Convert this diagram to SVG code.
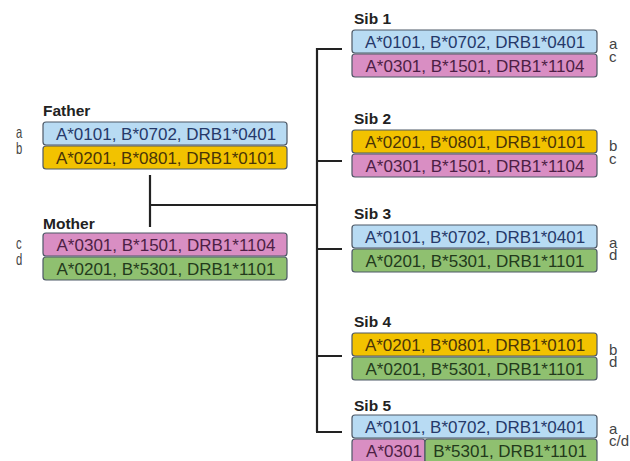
<svg xmlns="http://www.w3.org/2000/svg" width="630" height="461" viewBox="0 0 630 461">
<defs>
<style>
.bg{fill:#ffffff}
.box{stroke:#4d5866;stroke-width:1.2}
.blue{fill:#b8dbf3}
.yel{fill:#f2c200}
.pink{fill:#d98ec3}
.green{fill:#8fc070}
.t{font-family:"Liberation Sans",Arial,sans-serif;font-size:17px;text-anchor:middle}
.tb{fill:#26396a}
.ty{fill:#4a3508}
.tp{fill:#4d1f45}
.tg{fill:#233a1c}
.lbl{font-family:"Liberation Sans",Arial,sans-serif;font-size:15.5px;font-weight:bold;fill:#222}
.hap{font-family:"Liberation Sans",Arial,sans-serif;font-size:15px;fill:#444}
.ln{stroke:#222;stroke-width:2.2;fill:none}
</style>
</defs>
<rect class="bg" x="0" y="0" width="630" height="461"/>
<g id="connectors">
<path class="ln" d="M150,175 V227 M150,205 H317 M317,48 V432 M316,49 H342 M316,161 H342 M316,249 H342 M316,356 H342 M316,432 H342"/>
</g>
<g id="father">
<text class="lbl" x="43" y="116">Father</text>
<rect class="box blue" x="43" y="122" width="244" height="23" rx="3"/>
<text class="t tb" x="166" y="140">A*0101, B*0702, DRB1*0401</text>
<rect class="box yel" x="43" y="146" width="244" height="23" rx="3"/>
<text class="t ty" x="166" y="164">A*0201, B*0801, DRB1*0101</text>
<text class="hap" transform="translate(16,138) scale(0.75,1.1)">a</text>
<text class="hap" transform="translate(16,154) scale(0.75,1.1)">b</text>
</g>
<g id="mother">
<text class="lbl" x="43" y="229">Mother</text>
<rect class="box pink" x="43" y="233" width="244" height="23" rx="3"/>
<text class="t tp" x="166" y="251">A*0301, B*1501, DRB1*1104</text>
<rect class="box green" x="43" y="257" width="244" height="23" rx="3"/>
<text class="t tg" x="166" y="275">A*0201, B*5301, DRB1*1101</text>
<text class="hap" transform="translate(16,249) scale(0.75,1.1)">c</text>
<text class="hap" transform="translate(16,265) scale(0.75,1.1)">d</text>
</g>
<g id="sib1">
<text class="lbl" x="354" y="24">Sib 1</text>
<rect class="box blue" x="352" y="30" width="245" height="23" rx="3"/>
<text class="t tb" x="475" y="48">A*0101, B*0702, DRB1*0401</text>
<rect class="box pink" x="352" y="54" width="245" height="23" rx="3"/>
<text class="t tp" x="475" y="72">A*0301, B*1501, DRB1*1104</text>
<text class="hap" x="609" y="49">a</text>
<text class="hap" x="609" y="62">c</text>
</g>
<g id="sib2">
<text class="lbl" x="354" y="124">Sib 2</text>
<rect class="box yel" x="352" y="130" width="245" height="23" rx="3"/>
<text class="t ty" x="475" y="148">A*0201, B*0801, DRB1*0101</text>
<rect class="box pink" x="352" y="154" width="245" height="23" rx="3"/>
<text class="t tp" x="475" y="172">A*0301, B*1501, DRB1*1104</text>
<text class="hap" x="609" y="151">b</text>
<text class="hap" x="609" y="164">c</text>
</g>
<g id="sib3">
<text class="lbl" x="354" y="219">Sib 3</text>
<rect class="box blue" x="352" y="225" width="245" height="23" rx="3"/>
<text class="t tb" x="475" y="243">A*0101, B*0702, DRB1*0401</text>
<rect class="box green" x="352" y="249" width="245" height="23" rx="3"/>
<text class="t tg" x="475" y="267">A*0201, B*5301, DRB1*1101</text>
<text class="hap" x="609" y="248">a</text>
<text class="hap" x="609" y="260">d</text>
</g>
<g id="sib4">
<text class="lbl" x="354" y="327">Sib 4</text>
<rect class="box yel" x="352" y="333" width="245" height="23" rx="3"/>
<text class="t ty" x="475" y="351">A*0201, B*0801, DRB1*0101</text>
<rect class="box green" x="352" y="357" width="245" height="23" rx="3"/>
<text class="t tg" x="475" y="375">A*0201, B*5301, DRB1*1101</text>
<text class="hap" x="609" y="355">b</text>
<text class="hap" x="609" y="367">d</text>
</g>
<g id="sib5">
<text class="lbl" x="354" y="411">Sib 5</text>
<rect class="box blue" x="352" y="415" width="245" height="23" rx="3"/>
<text class="t tb" x="475" y="433">A*0101, B*0702, DRB1*0401</text>
<rect class="box pink" x="352" y="439" width="73" height="24" rx="3"/>
<text class="t tp" x="394" y="457">A*0301</text>
<rect class="box green" x="425" y="439" width="172" height="24" rx="3"/>
<text class="t tg" x="510" y="457">B*5301, DRB1*1101</text>
<text class="hap" x="609" y="434">a</text>
<text class="hap" x="609" y="446">c/d</text>
</g>
</svg>
